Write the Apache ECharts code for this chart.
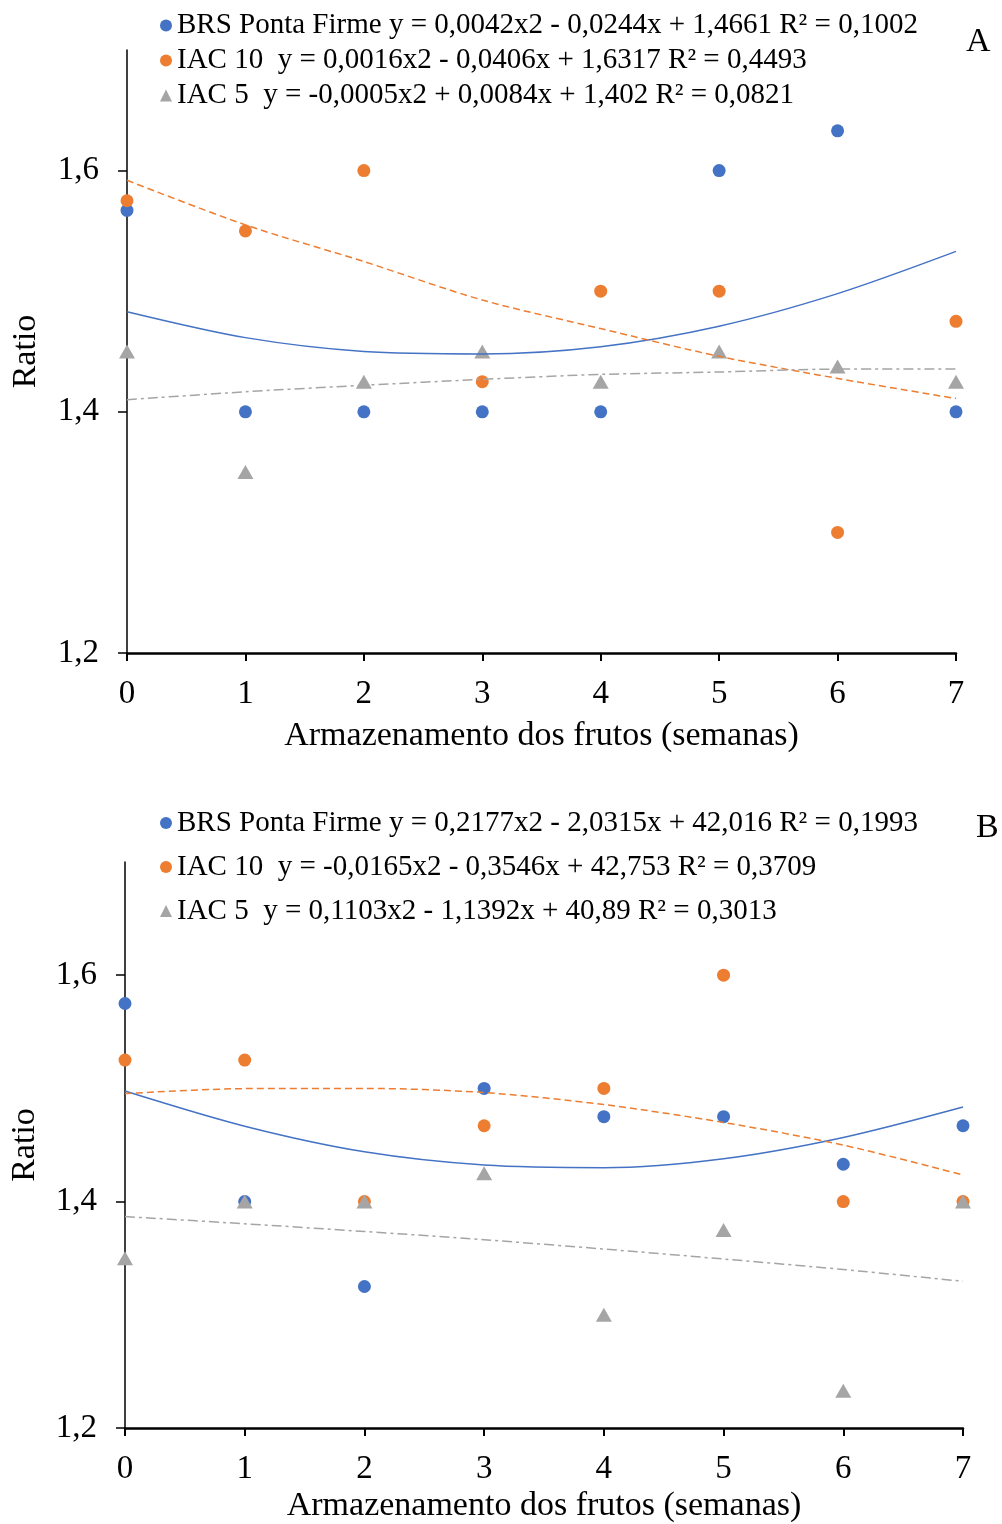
<!DOCTYPE html>
<html>
<head>
<meta charset="utf-8">
<script src="https://cdn.jsdelivr.net/npm/echarts@6/dist/echarts.min.js"></script>
<style>
html, body { margin: 0; padding: 0; background: #fff; }
#main { width: 1002px; height: 1524px; }
</style>
</head>
<body>
<div id="main"></div>
<script>
var weeks = [0, 1, 2, 3, 4, 5, 6, 7];
var yTicks = [1.2, 1.4, 1.6];

// painel A
var brsA = [1.567, 1.4, 1.4, 1.4, 1.4, 1.6, 1.633, 1.4];
var iac10A = [1.575, 1.55, 1.6, 1.425, 1.5, 1.5, 1.3, 1.475];
var iac5A = [1.45, 1.35, 1.425, 1.45, 1.425, 1.45, 1.4375, 1.425];
var brsTrendA = [1.483, 1.4615, 1.450, 1.448, 1.454, 1.471, 1.498, 1.533];
var iac10TrendA = [1.592, 1.555, 1.5246, 1.4927, 1.469, 1.446, 1.4277, 1.411];
var iac5TrendA = [1.410, 1.4166, 1.422, 1.4269, 1.431, 1.433, 1.4354, 1.4354];
var legendA = [
    'BRS Ponta Firme y = 0,0042x2 - 0,0244x + 1,4661 R² = 0,1002',
    'IAC 10  y = 0,0016x2 - 0,0406x + 1,6317 R² = 0,4493',
    'IAC 5  y = -0,0005x2 + 0,0084x + 1,402 R² = 0,0821'
];

// painel B
var brsB = [1.575, 1.4, 1.325, 1.5, 1.475, 1.475, 1.433, 1.467];
var iac10B = [1.525, 1.525, 1.4, 1.467, 1.5, 1.6, 1.4, 1.4];
var iac5B = [1.35, 1.4, 1.4, 1.425, 1.3, 1.375, 1.233, 1.4];
var brsTrendB = [1.4977, 1.4666, 1.444, 1.4323, 1.430, 1.4379, 1.4567, 1.4836];
var iac10TrendB = [1.4954, 1.4998, 1.5, 1.4963, 1.4857, 1.4699, 1.4499, 1.4235];
var iac5TrendB = [1.3868, 1.3804, 1.3736, 1.3663, 1.3581, 1.3493, 1.340, 1.3296];
var legendB = [
    'BRS Ponta Firme y = 0,2177x2 - 2,0315x + 42,016 R² = 0,1993',
    'IAC 10  y = -0,0165x2 - 0,3546x + 42,753 R² = 0,3709',
    'IAC 5  y = 0,1103x2 - 1,1392x + 40,89 R² = 0,3013'
];

var colors = ['#4472C4', '#ED7D31', '#A5A5A5'];
var font = 'Liberation Serif';

function pairs(vals) {
    return weeks.map(function (w, i) { return [w, vals[i]]; });
}

function dots(name, vals, idx, color, symbol) {
    return {
        name: name, type: 'scatter', xAxisIndex: idx, yAxisIndex: idx,
        data: pairs(vals), symbol: symbol,
        symbolSize: symbol == 'triangle' ? [16, 14] : 13,
        itemStyle: { color: color, opacity: 1 },
        z: 2
    };
}

function trend(vals, idx, color, type) {
    return {
        type: 'line', xAxisIndex: idx, yAxisIndex: idx,
        data: pairs(vals), smooth: 0.3, showSymbol: false, silent: true,
        lineStyle: { color: color, width: 1.5, type: type },
        z: 3
    };
}

function xAx(idx, gap) {
    return {
        type: 'value', gridIndex: idx, min: 0, max: 7, interval: 1,
        name: 'Armazenamento dos frutos (semanas)', nameLocation: 'middle', nameGap: gap,
        nameTextStyle: { fontFamily: font, fontSize: 34, color: '#000' },
        axisLine: { onZero: false, lineStyle: { color: '#000', width: 2.5 } },
        axisTick: { show: true, length: 8, lineStyle: { color: '#000', width: 2 } },
        axisLabel: { fontFamily: font, fontSize: 33, color: '#000', margin: 25 },
        splitLine: { show: false }
    };
}

function yAx(idx, gap) {
    return {
        type: 'value', gridIndex: idx, min: 1.2, max: 1.7, interval: 0.2,
        name: 'Ratio', nameLocation: 'middle', nameGap: gap,
        nameTextStyle: { fontFamily: font, fontSize: 34, color: '#000' },
        axisLine: { show: true, onZero: false, lineStyle: { color: '#000', width: 1.5 } },
        axisTick: { show: true, length: 9, customValues: yTicks, lineStyle: { color: '#000', width: 1.5 } },
        axisLabel: {
            fontFamily: font, fontSize: 33, color: '#000', margin: 28,
            customValues: yTicks,
            formatter: function (v) { return v.toFixed(1).replace('.', ','); }
        },
        splitLine: { show: false }
    };
}

function legendBox(names, top, lh) {
    return {
        orient: 'vertical', left: 160, top: top, itemGap: 0, padding: 0,
        itemWidth: 12, itemHeight: 12, selectedMode: false,
        data: names,
        textStyle: { fontFamily: font, fontSize: 29, color: '#000', lineHeight: lh }
    };
}

var myChart = echarts.init(document.getElementById('main'));
var option = {
    backgroundColor: '#fff',
    animation: false,
    title: [
        { text: 'A', left: 961, top: 20, textStyle: { fontFamily: font, fontSize: 34, fontWeight: 'normal', color: '#000' } },
        { text: 'B', left: 971, top: 806, textStyle: { fontFamily: font, fontSize: 34, fontWeight: 'normal', color: '#000' } }
    ],
    legend: [legendBox(legendA, 8, 35), legendBox(legendB, 801, 44)],
    grid: [
        { left: 127, top: 50, width: 829, height: 603 },
        { left: 121, top: 862, width: 842, height: 567 }
    ],
    xAxis: [xAx(0, 66), xAx(1, 61)],
    yAxis: [yAx(0, 84), yAx(1, 83)],
    series: [
        dots(legendA[0], brsA, 0, colors[0], 'circle'),
        dots(legendA[1], iac10A, 0, colors[1], 'circle'),
        dots(legendA[2], iac5A, 0, colors[2], 'triangle'),
        trend(brsTrendA, 0, colors[0], 'solid'),
        trend(iac10TrendA, 0, colors[1], [7, 4]),
        trend(iac5TrendA, 0, colors[2], [10, 4, 3, 4]),
        dots(legendB[0], brsB, 1, colors[0], 'circle'),
        dots(legendB[1], iac10B, 1, colors[1], 'circle'),
        dots(legendB[2], iac5B, 1, colors[2], 'triangle'),
        trend(brsTrendB, 1, colors[0], 'solid'),
        trend(iac10TrendB, 1, colors[1], [7, 4]),
        trend(iac5TrendB, 1, colors[2], [10, 4, 3, 4])
    ]
};
myChart.setOption(option);
</script>
</body>
</html>
